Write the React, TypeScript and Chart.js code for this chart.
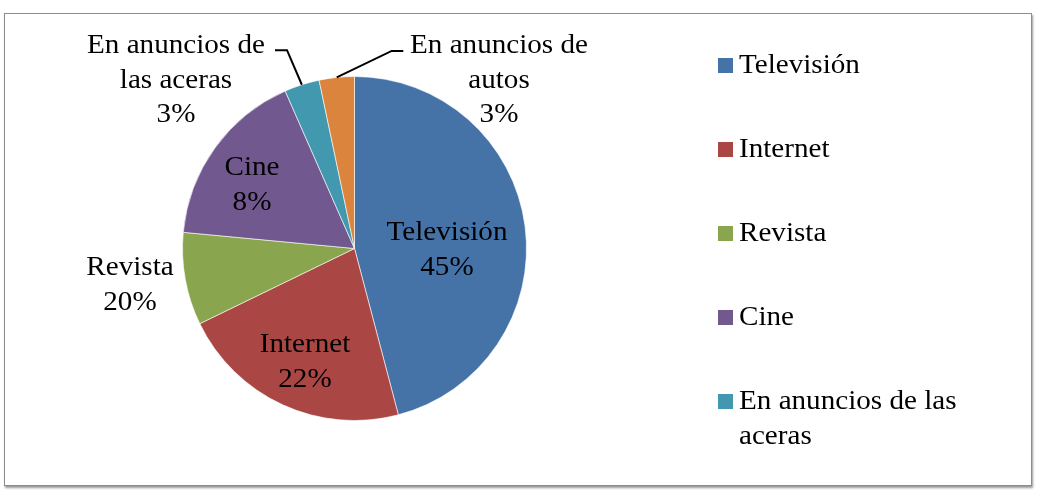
import React, { useEffect, useRef } from "react";
import { Chart, registerables } from "chart.js";

Chart.register(...registerables);

const categories = [
  "Televisión",
  "Internet",
  "Revista",
  "Cine",
  "En anuncios de las aceras",
  "En anuncios de autos",
];
const values = [45.9, 21.9, 8.7, 16.9, 3.3, 3.3];
const shownPercents = ["45%", "22%", "20%", "8%", "3%", "3%"];
const colors = ["#4572A7", "#AA4643", "#89A54E", "#71588F", "#4198AF", "#DB843D"];

const FONT = '28px "Liberation Serif", "Times New Roman", serif';
const LINE_H = 34.5;
const STRETCH = 1.04;

function wrap(ctx: CanvasRenderingContext2D, text: string, maxW: number): string[] {
  const words = text.split(" ");
  const lines: string[] = [];
  let cur = "";
  for (const w of words) {
    const t = cur ? cur + " " + w : w;
    if (ctx.measureText(t).width * STRETCH > maxW && cur) {
      lines.push(cur);
      cur = w;
    } else cur = t;
  }
  if (cur) lines.push(cur);
  return lines;
}

function drawText(ctx: CanvasRenderingContext2D, t: string, x: number, y: number) {
  ctx.save();
  ctx.translate(x, y);
  ctx.scale(STRETCH, 1);
  ctx.fillText(t, 0, 0);
  ctx.restore();
}

// label block centre, as offset from the pie centre
const labelOffset: [number, number][] = [
  [92.5, 1.7],
  [-49.5, 113.5],
  [-224.5, 36.7],
  [-102.5, -63.3],
  [-178.5, -168.3],
  [144.5, -168.3],
];
// leader line elbow x, end x, y (offsets from centre); null = no leader
const leader: ([number, number, number] | null)[] = [
  null,
  null,
  null,
  null,
  [-67.5, -79.5, -198.3],
  [37.2, 48.8, -197.6],
];

const labelPlugin = {
  id: "pieLabels",
  afterDatasetsDraw(chart: any) {
    const ctx: CanvasRenderingContext2D = chart.ctx;
    const meta = chart.getDatasetMeta(0);
    ctx.save();
    ctx.font = FONT;
    ctx.fillStyle = "#000";
    ctx.textAlign = "center";
    ctx.textBaseline = "middle";
    meta.data.forEach((arc: any, i: number) => {
      const { x, y, startAngle, endAngle, outerRadius } = arc.getProps(
        ["x", "y", "startAngle", "endAngle", "outerRadius"],
        true
      );
      const mid = (startAngle + endAngle) / 2;
      const lines = [...wrap(ctx, categories[i], 195), shownPercents[i]];
      const tx = x + labelOffset[i][0];
      const ty = y + labelOffset[i][1];
      const ld = leader[i];
      if (ld) {
        const ax = x + Math.cos(mid) * outerRadius;
        const ay = y + Math.sin(mid) * outerRadius;
        ctx.beginPath();
        ctx.strokeStyle = "#000";
        ctx.lineWidth = 2;
        ctx.moveTo(ax, ay);
        ctx.lineTo(x + ld[0], y + ld[2]);
        ctx.lineTo(x + ld[1], y + ld[2]);
        ctx.stroke();
      }
      const top = ty - ((lines.length - 1) * LINE_H) / 2;
      lines.forEach((l, k) => drawText(ctx, l, tx, top + k * LINE_H));
    });
    ctx.restore();
  },
};

const legendPlugin = {
  id: "sideLegend",
  afterDraw(chart: any) {
    const ctx: CanvasRenderingContext2D = chart.ctx;
    ctx.save();
    ctx.beginPath();
    ctx.rect(0, 14, chart.width, 470);
    ctx.clip();
    ctx.font = FONT;
    ctx.textBaseline = "middle";
    ctx.textAlign = "left";
    let yy = 66;
    categories.forEach((c, i) => {
      ctx.fillStyle = colors[i];
      ctx.fillRect(718, yy - 8, 15, 15);
      ctx.fillStyle = "#000";
      const lines = wrap(ctx, c, 265);
      lines.forEach((l, k) => drawText(ctx, l, 739, yy + k * LINE_H));
      yy += 84 + (lines.length - 1) * LINE_H;
    });
    ctx.restore();
  },
};

export default function App() {
  const ref = useRef<HTMLCanvasElement>(null);
  useEffect(() => {
    document.body.style.margin = "0";
    const chart = new Chart(ref.current!, {
      type: "pie",
      data: {
        labels: categories,
        datasets: [
          {
            data: values,
            backgroundColor: colors,
            borderColor: "rgba(255,255,255,0.6)",
            borderWidth: 1,
          },
        ],
      },
      options: {
        responsive: false,
        animation: false,
        layout: { padding: { left: 182, right: 511, top: 76, bottom: 71 } },
        plugins: {
          legend: { display: false },
          tooltip: { enabled: false },
        },
      },
      plugins: [labelPlugin, legendPlugin],
    });
    return () => chart.destroy();
  }, []);
  return (
    <div style={{ position: "relative", width: 1038, height: 492, background: "#fff" }}>
      <div
        style={{
          position: "absolute",
          left: 4,
          top: 13,
          width: 1026,
          height: 471,
          border: "1px solid #8c8c8c",
          boxShadow: "1px 2px 2px rgba(0,0,0,0.4)",
        }}
      />
      <canvas ref={ref} width={1038} height={492} style={{ position: "absolute", left: 0, top: 0 }} />
    </div>
  );
}
